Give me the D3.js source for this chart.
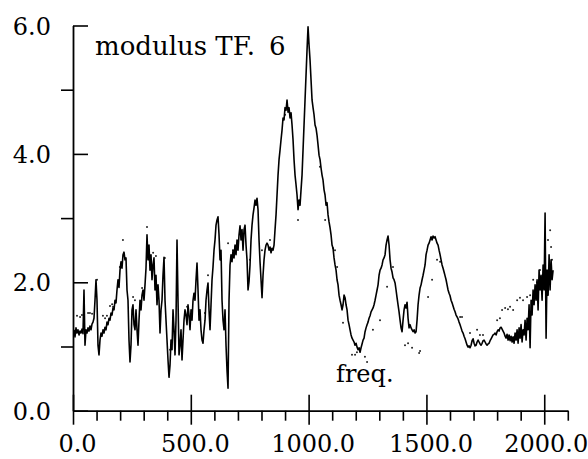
<!DOCTYPE html>
<html>
<head>
<meta charset="utf-8">
<script src="https://cdn.jsdelivr.net/npm/d3@7"></script>
<style>
  html, body { margin: 0; padding: 0; background: #fff; }
  svg { display: block; }
  text { font-family: "DejaVu Serif", "Liberation Serif", serif; fill: #000; }
</style>
</head>
<body>
<svg id="chart" width="588" height="459"></svg>
<script>
// ---------------- DATA ----------------
const titleText = "modulus TF.";
const titleNum = "6";
const xLabel = "freq.";
const xMajorTicks = [0, 500, 1000, 1500, 2000];
const xMinorTicks = [100, 200, 300, 400, 600, 700, 800, 900, 1100, 1200, 1300, 1400, 1600, 1700, 1800, 1900, 2100];
const yMajorTicks = [0, 2, 4, 6];
const yMinorTicks = [1, 3, 5];

// solid trace: uniformly sampled frequencies
const freqStart = 4.2;
const freqStep = 4.245;
const modulus = [
  1.26,1.15,1.29,1.21,1.26,1.18,1.24,1.21,1.27,1.20,
  1.88,1.02,1.26,1.21,1.29,1.24,1.32,1.26,1.35,1.38,
  1.44,1.72,2.04,1.72,1.02,0.87,1.10,1.21,1.16,1.26,
  1.21,1.30,1.26,1.38,1.34,1.44,1.41,1.52,1.49,1.60,
  1.57,1.72,1.68,1.88,2.04,1.92,2.19,2.32,2.22,2.43,
  2.47,2.35,2.38,1.88,1.72,1.10,0.76,1.02,1.57,1.65,
  1.34,1.26,1.57,1.26,1.02,1.41,1.72,1.57,1.80,1.88,
  1.72,1.96,2.22,2.74,2.35,2.58,2.19,2.43,2.04,2.27,
  2.38,1.88,2.11,1.65,1.96,1.72,1.21,1.57,1.72,2.11,
  2.39,1.72,1.41,1.10,0.79,0.52,0.71,1.10,0.95,1.57,
  1.26,0.87,1.41,2.66,1.72,0.87,1.02,1.26,0.79,1.10,
  1.41,1.57,1.49,1.34,1.65,1.49,1.26,1.57,1.41,1.72,
  1.83,1.72,2.04,2.30,1.88,1.41,1.57,1.26,1.10,1.05,
  1.26,1.41,1.72,1.88,1.99,1.57,1.26,1.65,2.04,2.24,
  2.50,2.66,2.89,2.97,3.02,2.74,2.35,2.50,1.72,1.41,
  1.26,1.57,1.02,0.63,0.35,1.72,2.27,2.43,2.32,2.50,
  2.38,2.58,2.43,2.66,2.50,2.74,2.88,2.66,2.82,2.50,
  2.82,2.89,2.58,2.35,1.88,2.01,2.27,2.66,2.89,3.05,
  3.16,3.28,3.20,3.31,3.13,2.66,2.32,2.04,1.76,2.11,
  2.35,2.50,2.58,2.61,2.58,2.50,2.55,2.46,2.53,2.50,
  2.58,2.82,3.05,3.36,3.67,3.91,4.06,4.22,4.37,4.56,
  4.53,4.72,4.68,4.84,4.65,4.72,4.56,4.64,4.45,4.22,
  3.91,3.67,3.52,3.36,3.13,3.28,3.20,3.44,3.67,4.06,
  4.45,4.84,5.23,5.62,5.98,5.70,5.46,5.15,4.84,4.72,
  4.61,4.45,4.40,4.29,4.14,3.98,3.91,3.78,3.67,3.59,
  3.44,3.36,3.20,3.24,3.05,2.94,2.85,2.74,2.58,2.53,
  2.38,2.27,2.19,2.04,1.96,1.80,1.72,1.65,1.57,1.65,
  1.80,1.76,1.65,1.57,1.41,1.34,1.26,1.18,1.13,1.10,
  1.07,1.02,1.05,0.99,0.95,0.98,0.91,0.98,1.04,1.10,
  1.13,1.23,1.29,1.34,1.38,1.44,1.48,1.54,1.57,1.60,
  1.65,1.72,1.80,1.88,1.96,2.11,2.19,2.22,2.27,2.35,
  2.38,2.43,2.58,2.66,2.72,2.58,2.35,2.22,2.16,2.07,
  2.04,1.99,1.88,1.76,1.65,1.54,1.41,1.29,1.23,1.41,
  1.57,1.65,1.60,1.69,1.44,1.29,1.34,1.29,1.26,1.23,
  1.26,1.21,1.23,1.41,1.65,1.80,1.91,1.96,2.04,2.11,
  2.19,2.27,2.43,2.50,2.58,2.61,2.66,2.71,2.66,2.72,
  2.69,2.71,2.66,2.61,2.58,2.50,2.43,2.35,2.27,2.22,
  2.16,2.10,2.04,1.96,1.88,1.83,1.79,1.72,1.68,1.63,
  1.58,1.54,1.49,1.46,1.43,1.38,1.34,1.29,1.24,1.21,
  1.16,1.12,1.07,1.02,0.99,1.01,0.98,1.02,1.09,1.12,
  1.05,1.01,1.02,1.07,1.10,1.07,1.04,1.02,1.05,1.09,
  1.10,1.07,1.04,1.02,1.04,1.05,1.09,1.12,1.15,1.18,
  1.19,1.21,1.18,1.23,1.26,1.24,1.29,1.30,1.27,1.24,
  1.21,1.16,1.13,1.19,1.10,1.18,1.09,1.16,1.07,1.15,
  1.05,1.21,1.10,1.26,1.05,1.29,1.13,1.34,1.07,1.26,
  1.18,1.41,1.10,1.44,1.26,1.65,0.98,1.72,1.49,1.88,
  1.65,1.96,1.72,2.04,1.57,2.19,1.88,2.11,1.72,2.27,
  1.88,3.08,1.13,2.19,1.80,2.43,1.88,2.35,2.04,2.19
];

// dotted trace (sparse points)
const dotFreq = [17,30,38,64,72,81,102,127,136,144,157,166,170,199,212,255,263,293,314,340,352,390,412,484,560,573,658,679,688,751,802,836,900,955,1048,1070,1104,1112,1121,1146,1184,1197,1205,1239,1248,1273,1303,1333,1358,1409,1422,1439,1469,1473,1507,1524,1545,1558,1643,1651,1685,1715,1727,1740,1800,1812,1821,1834,1846,1855,1868,1885,1897,1910,1927,1940,1953,1969,1982,2003,2016,2025,2029,2033];
const dotValue = [1.48,1.46,1.49,1.52,1.52,1.51,2.04,1.48,1.44,1.48,1.63,1.66,1.62,2.24,2.66,1.77,1.72,1.91,2.86,2.46,2.41,2.38,0.95,1.62,1.52,2.11,2.61,2.50,2.55,2.35,2.50,2.66,4.61,2.97,3.80,2.97,2.53,2.50,2.24,1.37,0.87,0.87,0.91,0.84,0.76,1.26,1.41,1.93,2.24,1.02,1.05,0.98,0.90,0.93,1.77,2.04,2.35,2.32,1.46,1.46,1.21,1.26,1.18,1.18,1.41,1.44,1.57,1.60,1.58,1.62,1.57,1.72,1.76,1.72,1.77,1.80,2.04,2.00,2.19,2.50,2.66,2.81,2.55,2.35];

// ---------------- CHART ----------------
const svg = d3.select("#chart");
const x = d3.scaleLinear().domain([0, 2100]).range([73, 567.8]);
const y = d3.scaleLinear().domain([0, 6]).range([410.7, 25.5]);

const solid = modulus.map((v, i) => ({ f: freqStart + i * freqStep, v }));
const dots = dotFreq.map((f, i) => ({ f, v: dotValue[i] }));

// dotted series
svg.append("g").selectAll("circle").data(dots).enter().append("circle")
  .attr("cx", d => x(d.f)).attr("cy", d => y(d.v))
  .attr("r", 1.0).attr("fill", "#222");

// solid series
svg.append("path").datum(solid)
  .attr("fill", "none").attr("stroke", "#000").attr("stroke-width", 1.6)
  .attr("stroke-linejoin", "round")
  .attr("d", d3.line().x(d => x(d.f)).y(d => y(d.v)));

// X axis minor ticks
const xMinor = svg.append("g").attr("transform", `translate(0,${y(0)})`)
  .call(d3.axisBottom(x).tickValues(xMinorTicks).tickSize(10).tickSizeOuter(0).tickFormat(""));
xMinor.select(".domain").remove();
xMinor.selectAll("line").attr("stroke-width", 1.6);

// X axis major
const xMajor = svg.append("g").attr("transform", `translate(0,${y(0)})`)
  .call(d3.axisBottom(x).tickValues(xMajorTicks).tickSizeInner(14).tickSizeOuter(0).tickPadding(0)
    .tickFormat(d3.format(".1f")));
xMajor.select(".domain").attr("stroke-width", 1.8);
xMajor.selectAll(".tick line").attr("y1", -16).attr("stroke-width", 1.6);
xMajor.selectAll(".tick text")
  .attr("y", 41).attr("dy", 0).attr("dx", d => d === 2000 ? 1.5 : 4)
  .style("font-size", "24px").style("font-family", '"DejaVu Serif", serif');

// Y axis minor ticks
const yMinor = svg.append("g").attr("transform", `translate(${x(0)},0)`)
  .call(d3.axisLeft(y).tickValues(yMinorTicks).tickSize(12).tickSizeOuter(0).tickFormat(""));
yMinor.select(".domain").remove();
yMinor.selectAll("line").attr("stroke-width", 1.6);

// Y axis major
const yMajor = svg.append("g").attr("transform", `translate(${x(0)},0)`)
  .call(d3.axisLeft(y).tickValues(yMajorTicks).tickSizeInner(16).tickSizeOuter(0).tickPadding(0)
    .tickFormat(d3.format(".1f")));
yMajor.select(".domain").attr("stroke-width", 1.8);
yMajor.selectAll(".tick line").attr("x2", 15).attr("stroke-width", 1.6);
yMajor.selectAll(".tick text")
  .attr("x", -22).attr("dy", "0.36em")
  .style("font-size", "24px").style("font-family", '"DejaVu Serif", serif');

// Title
const t = svg.append("text").attr("x", 95).attr("y", 55)
  .style("font-size", "26px");
t.append("tspan").text(titleText);
t.append("tspan").attr("x", 269).text(titleNum);

// freq. label
svg.append("text").attr("x", 336).attr("y", 382)
  .style("font-size", "24px").text(xLabel);
</script>
</body>
</html>
